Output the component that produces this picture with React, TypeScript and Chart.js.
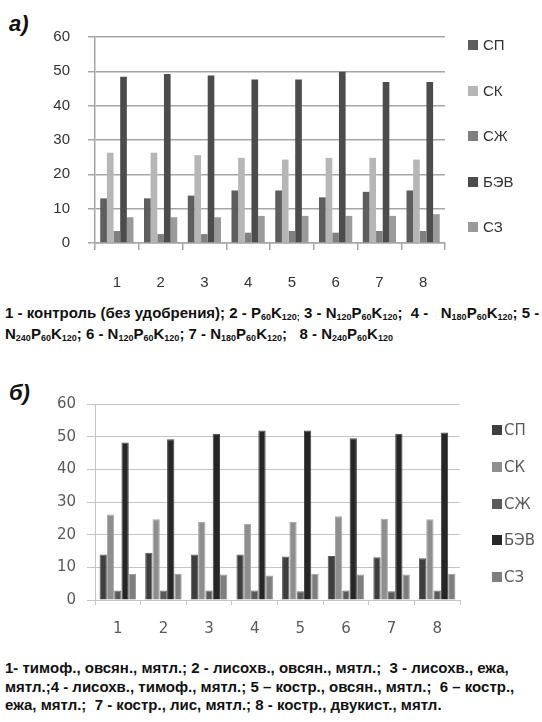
import React, { useEffect, useRef } from 'react';
import { Chart, registerables } from 'chart.js';

Chart.register(...registerables);

// ---------- data ----------
const categories = ['1', '2', '3', '4', '5', '6', '7', '8'];
const seriesNames = ['СП', 'СК', 'СЖ', 'БЭВ', 'СЗ'];
const yMin = 0;
const yMax = 60;
const yStep = 10;

// chart а)
const aSP = [13.0, 13.0, 13.8, 15.3, 15.3, 13.3, 14.9, 15.3];
const aSK = [26.3, 26.3, 25.6, 24.8, 24.3, 24.8, 24.8, 24.3];
const aSZh = [3.5, 2.6, 2.6, 3.0, 3.5, 3.0, 3.5, 3.5];
const aBEV = [48.4, 49.2, 48.8, 47.6, 47.6, 49.9, 46.9, 46.9];
const aSZ = [7.5, 7.5, 7.5, 7.9, 7.9, 7.9, 7.9, 8.4];

// chart б)
const bSP = [13.9, 14.5, 13.9, 13.9, 13.3, 13.5, 13.1, 12.8];
const bSK = [26.2, 24.7, 23.9, 23.3, 23.9, 25.6, 24.9, 24.7];
const bSZh = [2.9, 2.9, 2.9, 2.9, 2.7, 2.9, 2.7, 2.9];
const bBEV = [48.2, 49.2, 50.9, 51.9, 51.9, 49.5, 50.9, 51.3];
const bSZ = [8.0, 8.0, 7.8, 7.5, 8.0, 7.8, 7.8, 8.0];

const colorsA = ['#5e5e5e', '#b6b6b6', '#808080', '#4c4c4c', '#9a9a9a'];
const colorsB = ['#3e3e3e', '#8e8e8e', '#5a5a5a', '#262626', '#7e7e7e'];
const edgeB = ['#5a5a5a', '#a8a8a8', '#767676', '#444444', '#999999'];

type Style = {
  top: number;
  height: number;
  padRight: number;
  padTop: number;
  padBottom: number;
  yWidth: number;
  xHeight: number;
  fontFamily: string;
  fontSize: number;
  textColor: string;
  gridColor: string;
  gridWidth: number;
  yTickLen: number;
  xTickLen: number;
  yPad: number;
  xPad: number;
  catPct: number;
  edges?: string[];
};

function BarChart({ series, colors, s }: { series: number[][]; colors: string[]; s: Style }) {
  const ref = useRef<HTMLCanvasElement | null>(null);
  useEffect(() => {
    if (!ref.current) return;
    const chart = new Chart(ref.current, {
      type: 'bar',
      data: {
        labels: categories,
        datasets: series.map((d, i) => ({
          label: seriesNames[i],
          data: d,
          backgroundColor: colors[i],
          borderColor: s.edges ? s.edges[i] : colors[i],
          borderWidth: s.edges ? 1 : 0,
          categoryPercentage: s.catPct,
          barPercentage: 1.0,
        })),
      },
      options: {
        animation: false,
        responsive: false,
        devicePixelRatio: 1,
        layout: { padding: { left: 0, right: s.padRight, top: s.padTop, bottom: s.padBottom } },
        plugins: { legend: { display: false }, tooltip: { enabled: false } },
        scales: {
          x: {
            offset: true,
            grid: {
              offset: true,
              drawOnChartArea: false,
              drawTicks: true,
              tickLength: s.xTickLen,
              color: s.gridColor,
              lineWidth: s.gridWidth,
            },
            border: { display: true, color: s.gridColor, width: s.gridWidth },
            ticks: {
              padding: s.xPad,
              color: s.textColor,
              font: { family: s.fontFamily, size: s.fontSize },
              maxRotation: 0,
            },
            afterFit: (scale: any) => {
              scale.height = s.xHeight;
            },
          },
          y: {
            min: yMin,
            max: yMax,
            grid: {
              color: s.gridColor,
              lineWidth: s.gridWidth,
              drawTicks: true,
              tickLength: s.yTickLen,
            },
            border: { display: true, color: s.gridColor, width: s.gridWidth },
            ticks: {
              stepSize: yStep,
              padding: s.yPad,
              color: s.textColor,
              font: { family: s.fontFamily, size: s.fontSize },
            },
            afterFit: (scale: any) => {
              scale.width = s.yWidth;
            },
          },
        },
      },
    } as any);
    return () => chart.destroy();
  }, []);
  return (
    <canvas
      ref={ref}
      width={542}
      height={s.height}
      style={{ position: 'absolute', left: 0, top: s.top, width: 542, height: s.height }}
    />
  );
}

function Legend({ colors, left, textLeft, firstY, step, fontFamily, fontSize, color }: any) {
  return (
    <>
      {seriesNames.map((n, i) => (
        <div key={n}>
          <div
            style={{
              position: 'absolute',
              left,
              top: firstY + i * step - 5,
              width: 10,
              height: 10,
              background: colors[i],
            }}
          />
          <div
            style={{
              position: 'absolute',
              left: textLeft,
              top: firstY + i * step - 10,
              height: 20,
              lineHeight: '20px',
              fontFamily,
              fontSize,
              color,
              whiteSpace: 'nowrap',
            }}
          >
            {n}
          </div>
        </div>
      ))}
    </>
  );
}

const styleA: Style = {
  top: 0,
  height: 300,
  padRight: 97,
  padTop: 37,
  padBottom: 12,
  yWidth: 95,
  xHeight: 45,
  fontFamily: '"Liberation Sans", Arial, sans-serif',
  fontSize: 15,
  textColor: '#333333',
  gridColor: '#a6a6a6',
  gridWidth: 1.5,
  yTickLen: 7,
  xTickLen: 7,
  yPad: 18,
  xPad: 24,
  catPct: 0.76,
};

const styleB: Style = {
  top: 380,
  height: 270,
  padRight: 82,
  padTop: 24,
  padBottom: 5,
  yWidth: 95,
  xHeight: 45,
  fontFamily: '"DejaVu Sans", sans-serif',
  fontSize: 15,
  textColor: '#5a5a5a',
  gridColor: '#c4c4c4',
  gridWidth: 1,
  yTickLen: 8,
  xTickLen: 5,
  yPad: 11,
  xPad: 15,
  catPct: 0.8,
  edges: edgeB,
};

const capFont = '"Liberation Sans Narrow", "Arial Narrow", "Liberation Sans", Arial, sans-serif';
const subStyle: React.CSSProperties = { fontSize: '0.6em', verticalAlign: '-0.25em', lineHeight: 0 };
const S = ({ children }: { children: React.ReactNode }) => <span style={subStyle}>{children}</span>;

export default function App() {
  return (
    <div
      style={{
        position: 'absolute',
        left: 0,
        top: 0,
        width: 542,
        height: 722,
        background: '#ffffff',
        overflow: 'hidden',
      }}
    >
      <div
        style={{
          position: 'absolute',
          left: 9,
          top: 13,
          fontFamily: '"Liberation Sans", Arial, sans-serif',
          fontWeight: 'bold',
          fontStyle: 'italic',
          fontSize: 22,
          lineHeight: '22px',
          color: '#111',
        }}
      >
        а)
      </div>
      <BarChart series={[aSP, aSK, aSZh, aBEV, aSZ]} colors={colorsA} s={styleA} />
      <Legend
        colors={colorsA}
        left={468}
        textLeft={483}
        firstY={45}
        step={45.5}
        fontFamily={styleA.fontFamily}
        fontSize={15}
        color="#333333"
      />
      <div
        style={{
          position: 'absolute',
          left: 5,
          top: 302,
          fontFamily: capFont,
          fontWeight: 'bold',
          fontSize: 15,
          lineHeight: '21px',
          color: '#111',
          whiteSpace: 'pre',
        }}
      >
        {'1 - контроль (без удобрения); 2 - P'}<S>60</S>K<S>120;</S>{' 3 - N'}<S>120</S>P<S>60</S>K<S>120</S>
        {';  4 -   N'}<S>180</S>P<S>60</S>K<S>120</S>{'; 5 -'}
        <br />
        {'N'}<S>240</S>P<S>60</S>K<S>120</S>{'; 6 - N'}<S>120</S>P<S>60</S>K<S>120</S>{'; 7 - N'}<S>180</S>P<S>60</S>K<S>120</S>
        {';   8 - N'}<S>240</S>P<S>60</S>K<S>120</S>
      </div>

      <div
        style={{
          position: 'absolute',
          left: 9,
          top: 382,
          fontFamily: '"Liberation Sans", Arial, sans-serif',
          fontWeight: 'bold',
          fontStyle: 'italic',
          fontSize: 22,
          lineHeight: '22px',
          color: '#111',
        }}
      >
        б)
      </div>
      <BarChart series={[bSP, bSK, bSZh, bBEV, bSZ]} colors={colorsB} s={styleB} />
      <Legend
        colors={colorsB}
        left={492}
        textLeft={504}
        firstY={430}
        step={36.8}
        fontFamily={styleB.fontFamily}
        fontSize={15}
        color="#5a5a5a"
      />
      <div
        style={{
          position: 'absolute',
          left: 5,
          top: 659,
          fontFamily: capFont,
          fontWeight: 'bold',
          fontSize: 15,
          lineHeight: '18.5px',
          color: '#111',
          whiteSpace: 'pre',
        }}
      >
        {'1- тимоф., овсян., мятл.; 2 - лисохв., овсян., мятл.;  3 - лисохв., ежа,'}
        <br />
        {'мятл.;4 - лисохв., тимоф., мятл.; 5 – костр., овсян., мятл.;  6 – костр.,'}
        <br />
        {'ежа, мятл.;  7 - костр., лис, мятл.; 8 - костр., двукист., мятл.'}
      </div>
    </div>
  );
}
